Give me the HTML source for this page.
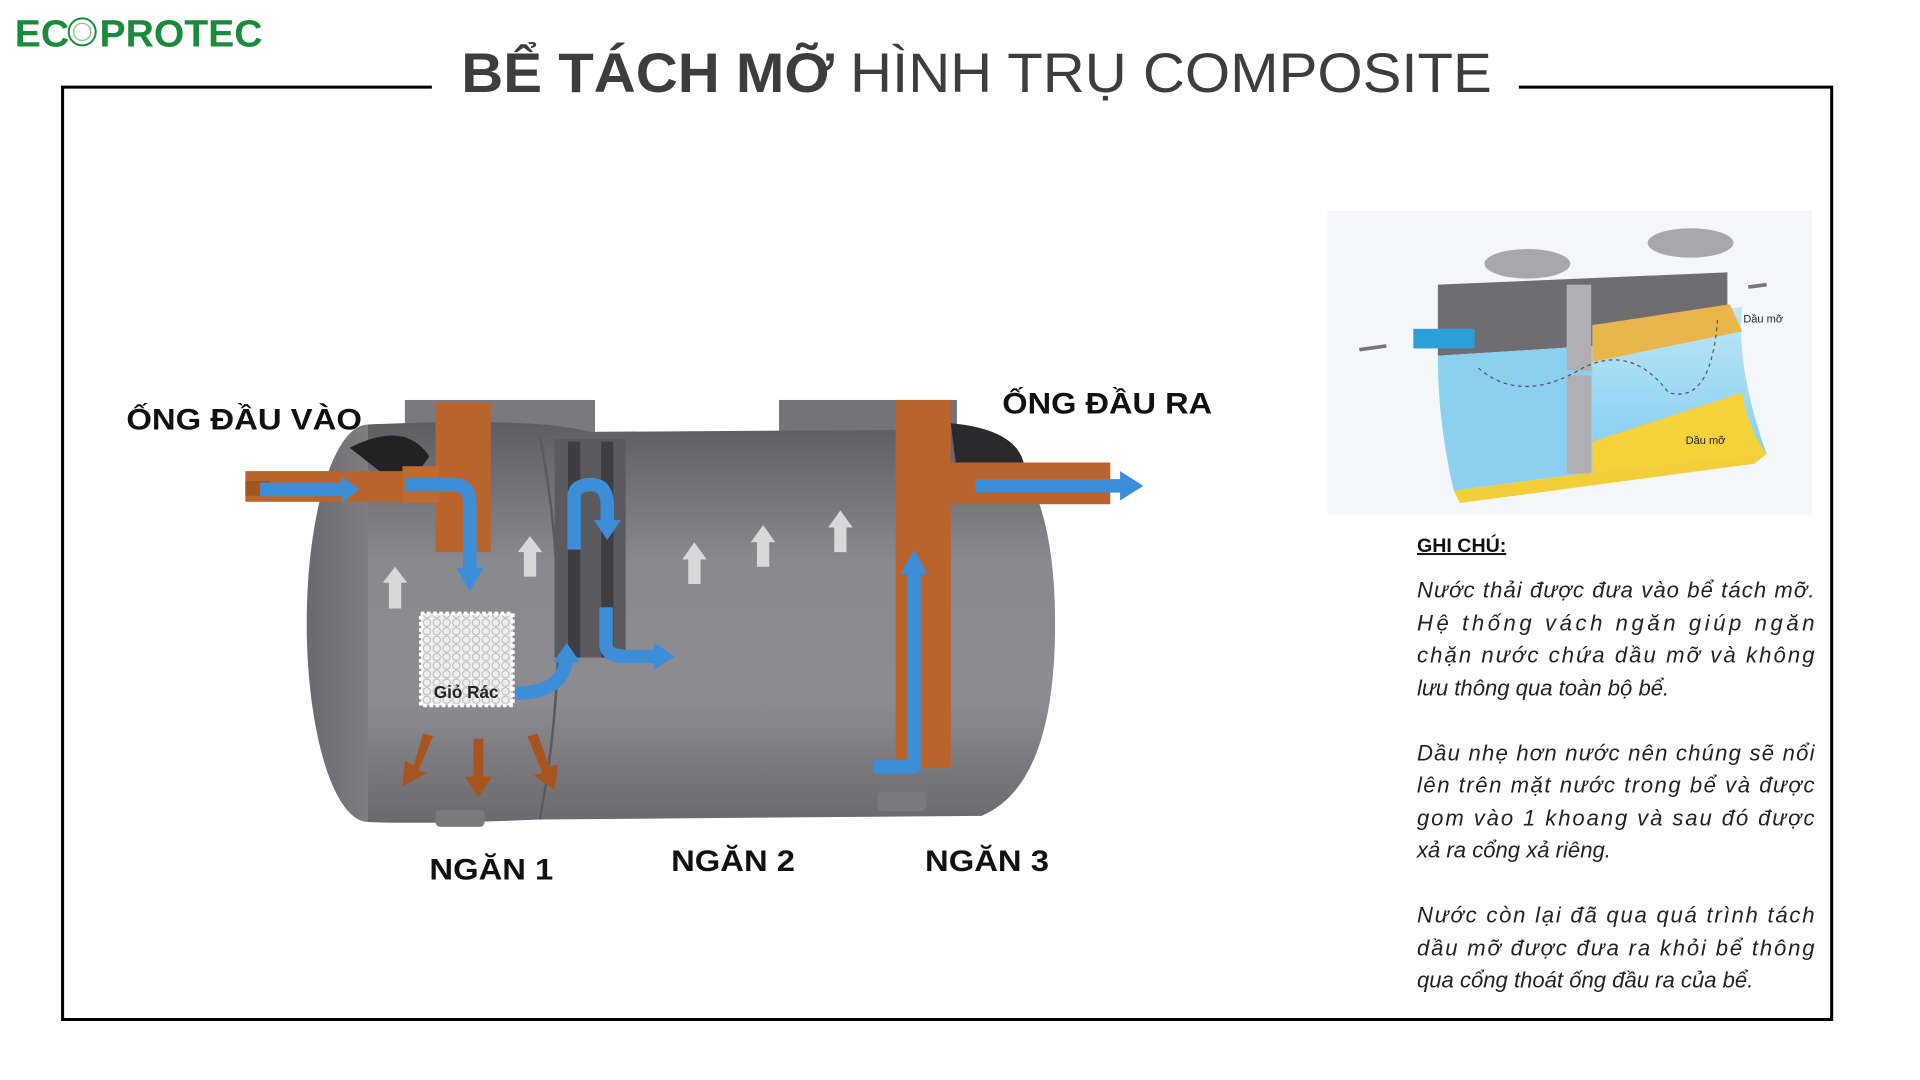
<!DOCTYPE html>
<html><head><meta charset="utf-8"><style>
html,body{margin:0;padding:0;background:#fff;width:1920px;height:1080px;overflow:hidden}
svg{display:block}
text{font-family:"Liberation Sans","DejaVu Sans",sans-serif}
</style></head><body>
<svg width="1920" height="1080" viewBox="0 0 1565 880.3" xmlns="http://www.w3.org/2000/svg">
<defs>
<linearGradient id="body" x1="0" y1="0" x2="0" y2="1">
<stop offset="0" stop-color="#5e5e62"/><stop offset="0.35" stop-color="#8a8a8e"/><stop offset="0.7" stop-color="#8c8c90"/><stop offset="1" stop-color="#6a6a6e"/></linearGradient>
<linearGradient id="endL" x1="0" y1="0" x2="1" y2="0">
<stop offset="0" stop-color="#6a6a6e"/><stop offset="1" stop-color="#939397"/></linearGradient>
<linearGradient id="water" x1="0" y1="0" x2="0" y2="1"><stop offset="0" stop-color="#bfe6f7"/><stop offset="1" stop-color="#7fcdf0"/></linearGradient>
<pattern id="hex" width="8" height="7" patternUnits="userSpaceOnUse"><rect width="8" height="7" fill="#eee"/><circle cx="4" cy="3.5" r="3" fill="none" stroke="#b8b8b8" stroke-width="0.8"/></pattern>
</defs>

<text x="12" y="38" font-size="31" font-weight="bold" fill="#1a8a3c" textLength="202" lengthAdjust="spacingAndGlyphs">EC<tspan fill="#fff">O</tspan>PROTEC</text>
<circle cx="67" cy="26" r="11" fill="none" stroke="#1a8a3c" stroke-width="1.6"/>
<circle cx="67" cy="26" r="7" fill="none" stroke="#8fc89c" stroke-width="1.2"/>

<text x="376" y="75" font-size="45" fill="#3d3d3d" textLength="840" lengthAdjust="spacingAndGlyphs"><tspan font-weight="bold">BỂ TÁCH MỠ</tspan> HÌNH TRỤ COMPOSITE</text>

<path d="M352 71 H51 V831 H1493 V71 H1238" fill="none" stroke="#000" stroke-width="2.5"/>

<rect x="330" y="326" width="155" height="80" fill="#7a7a7e"/>
<rect x="635" y="326" width="145" height="60" fill="#747478"/>
<ellipse cx="300" cy="508" rx="50" ry="162" fill="url(#endL)"/>
<path d="M300 346 Q440 340 480 352 L800 350 Q860 380 860 508 Q860 640 800 665 L440 668 Q340 672 300 670 Z" fill="url(#body)"/>
<path d="M285 365 Q330 342 350 372 L330 400 Z" fill="#222"/>
<path d="M775 345 Q830 350 835 380 L780 385 Z" fill="#2a2a2c"/>
<path d="M440 355 Q470 510 440 668" fill="none" stroke="#5a5a5e" stroke-width="2"/>
<rect x="452" y="358" width="58" height="178" fill="#5b5b5f"/>
<rect x="463" y="360" width="10" height="176" fill="#3e3e42"/>
<rect x="490" y="360" width="10" height="176" fill="#3e3e42"/>
<rect x="355" y="660" width="40" height="14" rx="4" fill="#7a7a7e"/>
<rect x="715" y="645" width="40" height="16" rx="4" fill="#7a7a7e"/>

<rect x="200" y="384" width="130" height="25" fill="#b8642c"/>
<rect x="200" y="392" width="20" height="12" fill="#a2561f"/>
<rect x="355" y="328" width="45" height="122" fill="#b8642c"/>
<rect x="328" y="380" width="30" height="30" fill="#c06a30"/>
<rect x="730" y="326" width="45" height="300" fill="#b8642c"/>
<rect x="775" y="377" width="130" height="34" fill="#b8642c"/>

<g fill="none" stroke="#3d8ed8" stroke-width="11" stroke-linejoin="round">
<path d="M212 399 H280"/>
<path d="M330 395 H370 Q383 395 383 410 V465"/>
<path d="M468 448 V405 Q468 395 482 395 Q495 395 495 412 V428"/>
<path d="M494 495 V525 Q494 535 510 535 H535"/>
<path d="M420 565 Q460 565 462 535"/>
<path d="M712 625 H745 V465"/>
<path d="M795 396 H915"/>
</g>
<g fill="#3d8ed8">
<polygon points="278,388 293,399 278,410"/>
<polygon points="372,463 394,463 383,482"/>
<polygon points="484,424 506,424 495,440"/>
<polygon points="533,524 550,535 533,546"/>
<polygon points="451,540 473,540 462,524"/>
<polygon points="734,468 756,468 745,448"/>
<polygon points="913,384 932,396 913,408"/>
</g>
<g fill="#d8d8d8">
<polygon points="317,496 327,496 327,475 332,475 322,462 312,475 317,475"/>
<polygon points="427,470 437,470 437,450 442,450 432,437 422,450 427,450"/>
<polygon points="561,476 571,476 571,456 576,456 566,442 556,456 561,456"/>
<polygon points="617,462 627,462 627,442 632,442 622,428 612,442 617,442"/>
<polygon points="680,450 690,450 690,430 695,430 685,416 675,430 680,430"/>
</g>
<g fill="#a8541f">
<polygon points="345,598 353,600 341,628 348,630 328,641 330,620 337,624"/>
<polygon points="386,602 394,602 394,633 401,633 390,650 379,633 386,633"/>
<polygon points="430,600 438,598 448,625 455,623 452,644 435,632 442,630"/>
</g>
<rect x="343" y="500" width="75" height="75" fill="url(#hex)" stroke="#fff" stroke-width="3" stroke-dasharray="3 2"/>
<text x="380" y="569" font-size="14" font-weight="bold" fill="#222" text-anchor="middle">Giỏ Rác</text>

<g font-size="24" fill="#111" font-weight="bold">
<text x="103" y="350" textLength="192" lengthAdjust="spacingAndGlyphs">ỐNG ĐẦU VÀO</text>
<text x="817" y="337" textLength="171" lengthAdjust="spacingAndGlyphs">ỐNG ĐẦU RA</text>
<text x="350" y="717" textLength="101" lengthAdjust="spacingAndGlyphs">NGĂN 1</text>
<text x="547" y="710" textLength="101" lengthAdjust="spacingAndGlyphs">NGĂN 2</text>
<text x="754" y="710" textLength="101" lengthAdjust="spacingAndGlyphs">NGĂN 3</text>
</g>

<rect x="1082" y="172" width="395" height="248" fill="#f4f6f9"/>
<ellipse cx="1245" cy="215" rx="35" ry="12" fill="#a8a8ac"/>
<ellipse cx="1378" cy="198" rx="35" ry="12" fill="#a8a8ac"/>
<path d="M1172 232 L1408 222 L1408 275 L1172 290 Z" fill="#6e6e72"/>
<path d="M1172 290 L1298 282 L1298 385 L1185 400 Q1172 345 1172 290 Z" fill="#8cd0ef"/>
<path d="M1298 265 L1420 250 Q1415 300 1440 370 L1298 385 Z" fill="url(#water)"/>
<path d="M1298 265 L1410 248 L1420 270 L1298 295 Z" fill="#e8b64a"/>
<path d="M1298 360 L1420 320 Q1425 350 1440 370 L1298 385 Z" fill="#f5d23a"/>
<path d="M1185 400 L1298 385 L1440 370 L1430 378 L1190 410 Z" fill="#f2cf38"/>
<rect x="1277" y="232" width="20" height="70" fill="#b0b0b4"/>
<rect x="1277" y="306" width="20" height="80" fill="#b0b0b4"/>
<rect x="1152" y="268" width="50" height="16" fill="#2aa0d8"/>
<path d="M1108 285 L1130 282" stroke="#777" stroke-width="3"/>
<path d="M1440 232 L1425 234" stroke="#777" stroke-width="3"/>
<path d="M1205 300 Q1240 330 1290 300 Q1330 280 1360 320 Q1395 330 1400 260" fill="none" stroke="#555" stroke-width="1" stroke-dasharray="3 3"/>
<text x="1421" y="263" font-size="9" font-family="Liberation Serif" fill="#222">Dầu mỡ</text>
<text x="1374" y="362" font-size="9" font-family="Liberation Serif" fill="#222">Dầu mỡ</text>

<text x="1155" y="450" font-size="16" font-weight="bold" fill="#111" text-decoration="underline">GHI CHÚ:</text>
<g font-size="18" font-style="italic" fill="#222">
<text x="1155" y="487" textLength="324" lengthAdjust="spacing">Nước thải được đưa vào bể tách mỡ.</text>
<text x="1155" y="514" textLength="324" lengthAdjust="spacing">Hệ thống vách ngăn giúp ngăn</text>
<text x="1155" y="540" textLength="324" lengthAdjust="spacing">chặn nước chứa dầu mỡ và không</text>
<text x="1155" y="567">lưu thông qua toàn bộ bể.</text>
<text x="1155" y="620" textLength="324" lengthAdjust="spacing">Dầu nhẹ hơn nước nên chúng sẽ nổi</text>
<text x="1155" y="646" textLength="324" lengthAdjust="spacing">lên trên mặt nước trong bể và được</text>
<text x="1155" y="673" textLength="324" lengthAdjust="spacing">gom vào 1 khoang và sau đó được</text>
<text x="1155" y="699">xả ra cổng xả riêng.</text>
<text x="1155" y="752" textLength="324" lengthAdjust="spacing">Nước còn lại đã qua quá trình tách</text>
<text x="1155" y="779" textLength="324" lengthAdjust="spacing">dầu mỡ được đưa ra khỏi bể thông</text>
<text x="1155" y="805">qua cổng thoát ống đầu ra của bể.</text>
</g>
</svg>
</body></html>
